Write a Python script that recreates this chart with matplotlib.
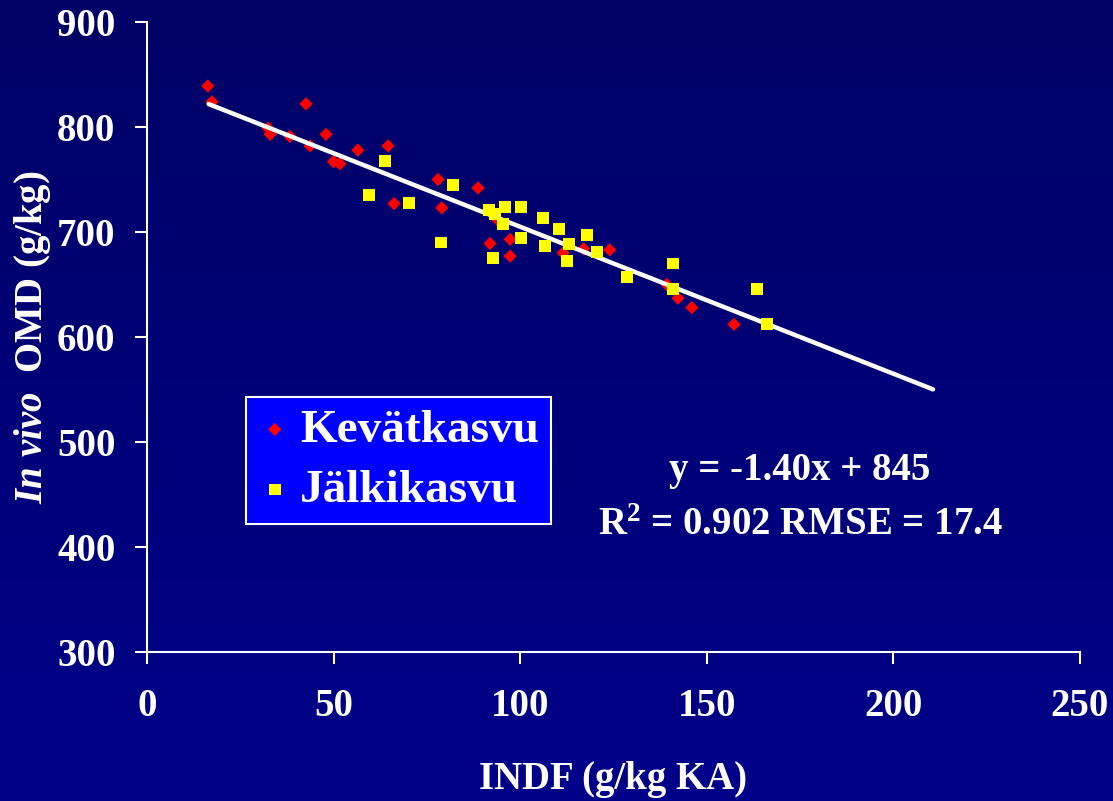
import numpy as np
import matplotlib
matplotlib.use("Agg")
import matplotlib.pyplot as plt
from matplotlib.colors import LinearSegmentedColormap

# ---- data ----
kevat_x = [16.3, 17.4, 42.6, 32.4, 33.0, 38.3, 43.7, 48.0, 50.0, 51.7, 56.5, 64.6,
           66.2, 78.0, 79.0, 88.7, 91.9, 94.1, 97.3, 97.3, 111.5, 117.0, 124.0,
           139.3, 142.3, 146.0, 157.3]
kevat_y = [839, 824, 822, 799, 793, 791, 782, 793, 767, 765, 778, 782,
           727, 750, 723, 742, 689, 711, 693, 677, 680, 684, 683,
           650, 637, 628, 612]

jalki_x = [63.8, 59.5, 70.2, 82.0, 78.8, 91.6, 93.2, 95.9, 100.2, 95.4, 92.7, 100.2,
           106.0, 106.6, 110.4, 113.0, 112.5, 117.9, 120.6, 128.6, 141.0, 141.0,
           163.4, 166.1]
jalki_y = [768, 735, 728, 745, 690, 721, 717, 724, 724, 708, 675, 694,
           713, 687, 703, 689, 672, 697, 681, 657, 670, 646,
           646, 612]

fit_slope = -1.40
fit_intercept = 845
fit_x = np.array([16.5, 210.6])

x_ticks = [0, 50, 100, 150, 200, 250]
y_ticks = [300, 400, 500, 600, 700, 800, 900]

series_labels = ["Kevätkasvu", "Jälkikasvu"]
eq_text = "y = -1.40x + 845"
stat_text = r"R$^{\mathbf{2}}$ = 0.902 RMSE = 17.4"

# ---- style ----
plt.rcParams['font.family'] = ['Liberation Serif', 'DejaVu Serif']
plt.rcParams['font.weight'] = 'bold'
plt.rcParams['mathtext.fontset'] = 'custom'
plt.rcParams['mathtext.rm'] = 'Liberation Serif:bold'
plt.rcParams['mathtext.bf'] = 'Liberation Serif:bold'
plt.rcParams['mathtext.it'] = 'Liberation Serif:italic:bold'

fig = plt.figure(figsize=(11.13, 8.01), dpi=100)
fig.patch.set_facecolor('#000070')

# gradient background
bg = fig.add_axes([0, 0, 1, 1], zorder=-10)
cmap = LinearSegmentedColormap.from_list('bg', ['#000066', '#00008A'])
bg.imshow(np.linspace(0, 1, 256).reshape(-1, 1), aspect='auto', cmap=cmap,
          extent=[0, 1, 0, 1])
bg.set_axis_off()

ax = fig.add_axes([147/1113, 149/801, 933/1113, 630/801])
ax.set_facecolor('none')

ax.scatter(kevat_x, kevat_y, marker='D', s=6.8**2, color='#FF0000',
           edgecolors='none', zorder=2, label=series_labels[0])
ax.plot(fit_x, fit_slope * fit_x + fit_intercept, color='white', lw=3.2,
        solid_capstyle='round', zorder=3)
ax.scatter(jalki_x, jalki_y, marker='s', s=8.6**2, color='#FFFF00',
           edgecolors='none', zorder=4, label=series_labels[1])

ax.set_xlim(0, 250)
ax.set_ylim(300, 900)
ax.set_xticks(x_ticks)
ax.set_yticks(y_ticks)

for s in ['top', 'right']:
    ax.spines[s].set_visible(False)
for s in ['left', 'bottom']:
    ax.spines[s].set_color('white')
    ax.spines[s].set_linewidth(1.5)

ax.tick_params(axis='both', colors='white', direction='out', length=8.6,
               width=1.5, labelsize=28)
ax.tick_params(axis='x', pad=17)
ax.tick_params(axis='y', pad=14)
for lab in ax.get_xticklabels() + ax.get_yticklabels():
    lab.set_fontweight('bold')

ax.set_xlabel("INDF (g/kg KA)", fontsize=28, fontweight='bold', color='white',
              va='center')
ax.xaxis.set_label_coords(0.5, (652 - 780) / 630)
ax.set_ylabel(r"$\mathit{In\ vivo}$  OMD (g/kg)", fontsize=28, fontweight='bold',
              color='white', va='center')
ax.yaxis.set_label_coords((33 - 147) / 933, 0.5)

leg = ax.legend(loc='upper left', bbox_to_anchor=((246 - 147) / 933, (652 - 397) / 630),
                borderaxespad=0, frameon=True, fancybox=False,
                facecolor='#0000FF', edgecolor='white', framealpha=1,
                prop={'family': 'Liberation Serif', 'weight': 'bold', 'size': 34},
                handlelength=0.72, handletextpad=0.17, borderpad=0.25,
                labelspacing=0.36, scatterpoints=1)
leg.get_frame().set_linewidth(1.5)
for t in leg.get_texts():
    t.set_color('white')

ax.text(175, 463.8, eq_text, fontsize=28, fontweight='bold', color='white',
        ha='center', va='baseline')
ax.text(175, 411.4, stat_text, fontsize=28, fontweight='bold', color='white',
        ha='center', va='baseline')

fig.savefig('out.png', dpi=100, facecolor=fig.get_facecolor())
